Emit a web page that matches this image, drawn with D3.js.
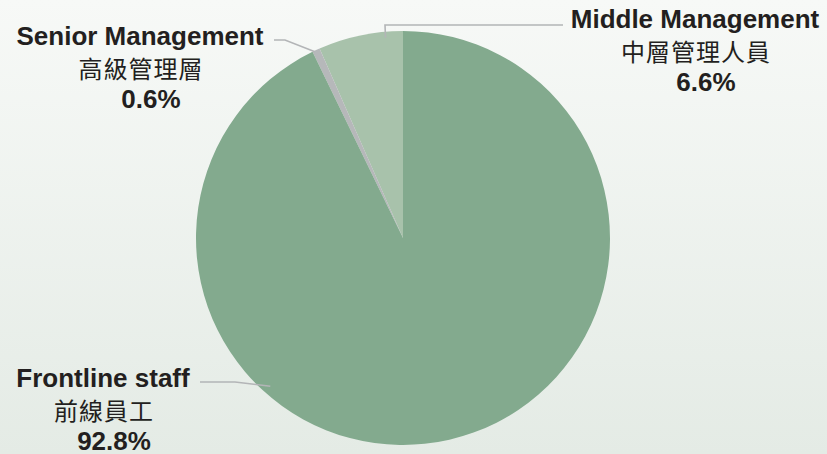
<!DOCTYPE html>
<html>
<head>
<meta charset="utf-8">
<script src="https://cdn.jsdelivr.net/npm/d3@7"></script>
<style>
  body { margin: 0; }
  svg { display: block; }
</style>
</head>
<body>
<div id="wrapper"></div>
<script>
// data
const categories = ["Middle Management", "Senior Management", "Frontline staff"];
const categoriesZh = ["中層管理人員", "高級管理層", "前線員工"];
const shares = [6.6, 0.6, 92.8];
const colours = ["#a8c2ab", "#b6b8ba", "#83aa8e"];

function buildPie() {
    const width = 827, height = 454;
    const cx = 403, cy = 238, radius = 207;

    const svg = d3.select("#wrapper").append("svg")
        .attr("width", width)
        .attr("height", height);

    const grad = svg.append("defs").append("linearGradient")
        .attr("id", "bg").attr("x1", 0).attr("y1", 0).attr("x2", 0).attr("y2", 1);
    grad.append("stop").attr("offset", "0%").attr("stop-color", "#f7f9f7");
    grad.append("stop").attr("offset", "100%").attr("stop-color", "#e4ebe5");
    svg.append("rect").attr("width", width).attr("height", height).attr("fill", "url(#bg)");

    const data = categories.map((c, i) => ({ name: c, zh: categoriesZh[i], value: shares[i], colour: colours[i] }));

    // counter-clockwise from 12 o'clock
    const pie = d3.pie().value(d => d.value).sort(null)
        .startAngle(0).endAngle(-2 * Math.PI);
    const arcs = pie(data);
    const arc = d3.arc().innerRadius(0).outerRadius(radius);

    const g = svg.append("g").attr("transform", `translate(${cx},${cy})`);
    g.selectAll("path.slice").data(arcs).join("path")
        .attr("class", "slice")
        .attr("fill", d => d.data.colour)
        .attr("d", arc);

    // leader lines: anchor inside slice, elbow, end near label
    const leaders = [
        { frac: 0.21, r: 201, pts: [[385, 25], [563, 25]] },
        { frac: 0.72, r: 206, pts: [[285, 40], [274, 40]] },
        { frac: 0.336, r: 199, pts: [[235, 382], [200, 382]] }
    ];
    const line = d3.line();
    arcs.forEach((a, i) => {
        const L = leaders[i];
        const ang = a.startAngle + L.frac * (a.endAngle - a.startAngle);
        const start = [cx + L.r * Math.sin(ang), cy - L.r * Math.cos(ang)];
        svg.append("path")
            .attr("fill", "none")
            .attr("stroke", "#b3b5b7")
            .attr("stroke-width", 1.6)
            .attr("d", line([start, ...L.pts]));
    });

    // labels
    const labelPos = [
        { x: 695, y: 28 },
        { x: 140, y: 45 },
        { x: 103, y: 387 }
    ];
    data.forEach((d, i) => {
        const p = labelPos[i];
        const t = svg.append("g").attr("fill", "#231f20").attr("text-anchor", "middle");
        t.append("text")
            .attr("x", p.x).attr("y", p.y)
            .style("font", "bold 26px 'Liberation Sans', Arial, sans-serif")
            .text(d.name);
        t.append("text")
            .attr("x", p.x + 1).attr("y", p.y + 33)
            .style("font", "24px 'Noto Sans CJK TC', sans-serif")
            .style("letter-spacing", "1px")
            .text(d.zh);
        t.append("text")
            .attr("x", p.x + 11).attr("y", p.y + 63)
            .style("font", "bold 26px 'Liberation Sans', Arial, sans-serif")
            .text(d.value.toFixed(1) + "%");
    });
}

buildPie();
</script>
</body>
</html>
